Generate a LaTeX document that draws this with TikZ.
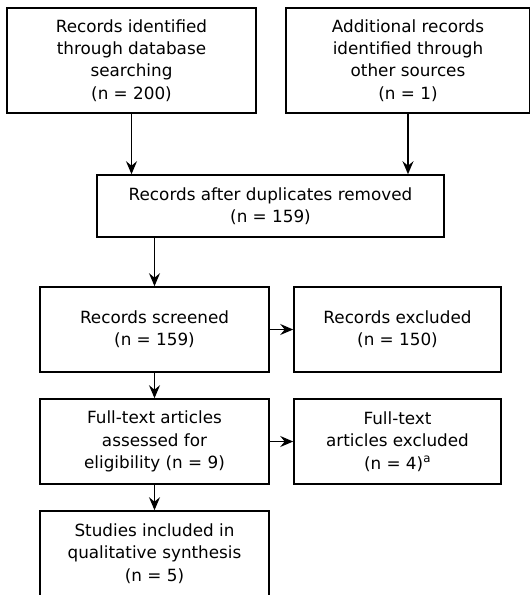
\documentclass[tikz,border=0pt]{standalone}
\usepackage{fontspec}
\setmainfont{DejaVu Sans}
\usetikzlibrary{arrows.meta}

\begin{document}
\begin{tikzpicture}[x=1pt, y=-1pt,
    box/.style={draw, line width=1.6pt, align=center, inner sep=0pt,
      font=\fontsize{16.8pt}{22.3pt}\selectfont},
    arr/.style={line width=1.6pt, -{Stealth[length=13pt, width=11pt, inset=4.5pt]}}]
  \useasboundingbox (0,0) rectangle (530,595);
  % identification
  \node[box, minimum width=249pt, minimum height=105pt] (db) at (131.5, 60.5)
    {Records identified\\through database\\searching\\(n = 200)};
  \node[box, minimum width=244pt, minimum height=105pt] (other) at (408, 60.5)
    {Additional records\\identified through\\other sources\\(n = 1)};
  \node[box, minimum width=347pt, minimum height=62pt] (dedup) at (270.5, 206)
    {Records after duplicates removed\\(n = 159)};
  % screening and eligibility
  \node[box, minimum width=229pt, minimum height=85pt] (screened) at (154.5, 329.5)
    {Records screened\\(n = 159)};
  \node[box, minimum width=207pt, minimum height=85pt] (excluded) at (397.5, 329.5)
    {Records excluded\\(n = 150)};
  \node[box, minimum width=229pt, minimum height=85pt] (fulltext) at (154.5, 441.5)
    {Full-text articles\\assessed for\\eligibility (n = 9)};
  \node[box, minimum width=207pt, minimum height=85pt] (ftexcluded) at (397.5, 441.5)
    {Full-text\\articles excluded\\(n = 4)\textsuperscript{a}};
  \node[box, minimum width=229pt, minimum height=85pt] (included) at (154.5, 553.5)
    {Studies included in\\qualitative synthesis\\(n = 5)};
  % connectors
  \draw[arr] (db.south) -- (db.south |- dedup.north);
  \draw[arr] (other.south) -- (other.south |- dedup.north);
  \draw[arr] (dedup.south -| screened.north) -- (screened.north);
  \draw[arr] (screened) -- (excluded);
  \draw[arr] (screened) -- (fulltext);
  \draw[arr] (fulltext) -- (ftexcluded);
  \draw[arr] (fulltext) -- (included);
\end{tikzpicture}
\end{document}
